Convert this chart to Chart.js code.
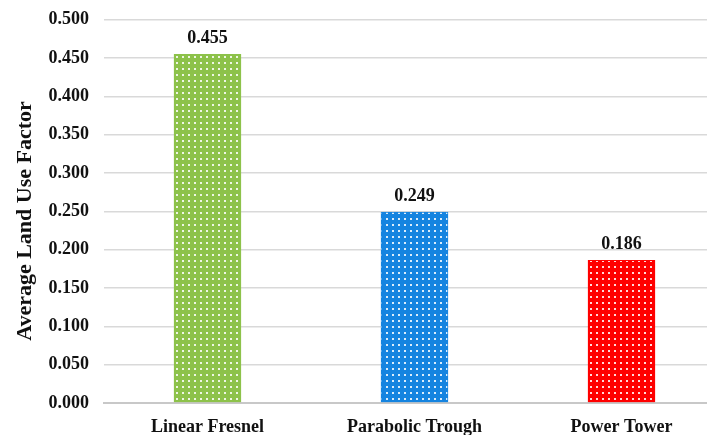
<!DOCTYPE html>
<html>
<head>
<meta charset="utf-8">
<script src="https://cdn.jsdelivr.net/npm/chart.js@4/dist/chart.umd.min.js"></script>
<style>
  html, body { margin: 0; padding: 0; background: #fff; overflow: hidden; }
  #wrap { width: 725px; height: 441px; margin-top: -6px; }
</style>
</head>
<body>
<div id="wrap"><canvas id="landChart" width="725" height="441"></canvas></div>
<script>
// categories and values
var technologies = ["Linear Fresnel", "Parabolic Trough", "Power Tower"];
var landUseFactor = [0.455, 0.249, 0.186];
var barColors = ["#8dc24a", "#1584e0", "#ff0000"];
var yTicks = [0, 0.05, 0.1, 0.15, 0.2, 0.25, 0.3, 0.35, 0.4, 0.45, 0.5];
var yTitle = "Average Land Use Factor";

// dotted fill like the office "small grid" pattern
function dotPattern(color) {
  var c = document.createElement("canvas");
  c.width = 6; c.height = 6;
  var g = c.getContext("2d");
  g.fillStyle = color;
  g.fillRect(0, 0, 6, 6);
  g.fillStyle = "rgba(255,255,255,0.85)";
  g.fillRect(2, 2, 2, 2);
  return g.createPattern(c, "repeat");
}

var serif = "'Liberation Serif', 'Times New Roman', serif";

// value labels above each bar + rotated axis title
var annotations = {
  id: "annotations",
  afterDatasetsDraw: function(chart) {
    var ctx = chart.ctx;
    var meta = chart.getDatasetMeta(0);
    ctx.save();
    ctx.font = "bold 18px " + serif;
    ctx.fillStyle = "#111";
    ctx.textAlign = "center";
    ctx.textBaseline = "bottom";
    meta.data.forEach(function(bar, i) {
      ctx.fillText(landUseFactor[i].toFixed(3), bar.x, bar.y - 7);
    });
    ctx.restore();

    ctx.save();
    ctx.translate(25, 227);
    ctx.rotate(-Math.PI / 2);
    ctx.font = "bold 22px " + serif;
    ctx.fillStyle = "#111";
    ctx.textAlign = "center";
    ctx.textBaseline = "middle";
    ctx.fillText(yTitle, 0, 0);
    ctx.restore();
  }
};

var chart = new Chart(document.getElementById("landChart"), {
  type: "bar",
  data: {
    labels: technologies,
    datasets: [{
      data: landUseFactor,
      backgroundColor: barColors.map(dotPattern),
      borderColor: barColors,
      borderWidth: 1,
      barThickness: 67
    }]
  },
  options: {
    responsive: false,
    animation: false,
    layout: { padding: { top: 12, left: 0, right: 0, bottom: 0 } },
    plugins: { legend: { display: false }, tooltip: { enabled: false } },
    scales: {
      x: {
        grid: { display: false },
        border: { color: "#c8c8c8", width: 2 },
        ticks: { color: "#111", font: { family: serif, size: 18, weight: "bold" }, padding: 6 },
        afterFit: function(s) { s.height = 32; }
      },
      y: {
        min: 0,
        max: 0.5,
        afterBuildTicks: function(s) { s.ticks = yTicks.map(function(v) { return { value: v }; }); },
        grid: { color: "#d9d9d9", lineWidth: 1.5, drawTicks: false },
        border: { display: false },
        ticks: {
          color: "#111",
          padding: 15,
          font: { family: serif, size: 18, weight: "bold" },
          callback: function(v) { return v.toFixed(3); }
        },
        afterFit: function(s) { s.width = 104; }
      }
    }
  },
  plugins: [annotations]
});
</script>
</body>
</html>
